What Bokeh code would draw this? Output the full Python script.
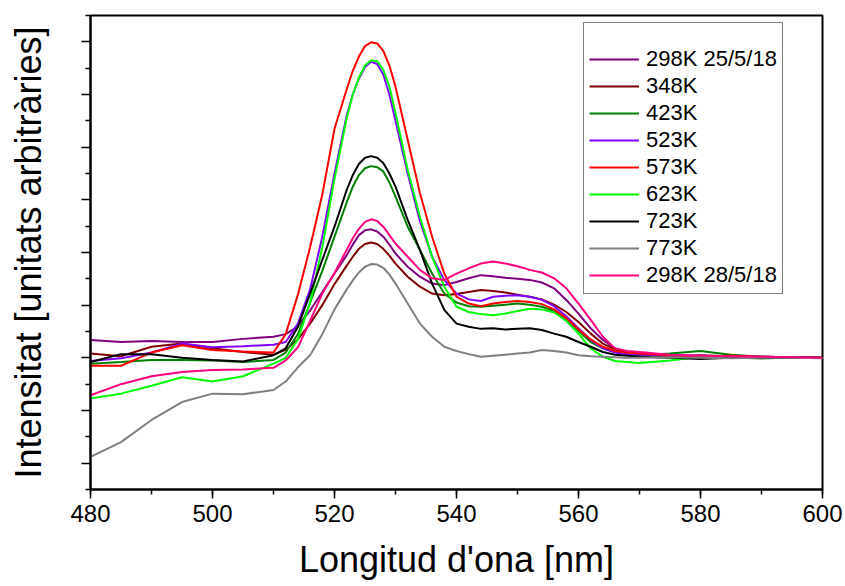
from bokeh.plotting import figure
from bokeh.models import SingleIntervalTicker, FixedTicker, Legend, LegendItem, CustomJSTickFormatter
from bokeh.embed import file_html
from bokeh.resources import INLINE

# wavelength grid [nm]
wl = [480, 485, 490, 495, 500, 505, 510,
      512, 514, 516, 518, 520, 522, 523, 524, 525, 526, 527, 528, 529, 530, 532, 534, 536, 538,
      540, 542, 544, 546, 548, 550, 552, 554, 556, 558, 560, 562, 564, 566, 568, 570,
      575, 580, 585, 590, 595, 600]

labels = ["298K 25/5/18", "348K", "423K", "523K", "573K", "623K", "723K", "773K", "298K 28/5/18"]
colors = ["#800080", "#800000", "#008000", "#8000FF", "#FF0000", "#00FF00", "#000000", "#808080", "#FF0080"]

s_298a = [0.34, 0.30, 0.32, 0.30, 0.30, 0.36, 0.40,
          0.45, 0.60, 0.90, 1.25, 1.60, 1.95, 2.15, 2.33, 2.42, 2.44, 2.40, 2.30, 2.15, 1.98, 1.73, 1.54, 1.41, 1.38,
          1.44, 1.51, 1.57, 1.55, 1.52, 1.50, 1.48, 1.43, 1.32, 1.10, 0.84, 0.56, 0.34, 0.18, 0.11, 0.08,
          0.04, 0.03, 0.02, 0.01, 0.00, 0.00]
s_348 = [0.08, 0.03, 0.21, 0.27, 0.18, 0.11, 0.06,
         0.15, 0.35, 0.65, 1.00, 1.40, 1.75, 1.92, 2.07, 2.16, 2.19, 2.16, 2.07, 1.94, 1.79, 1.54, 1.35, 1.22, 1.19,
         1.21, 1.25, 1.29, 1.27, 1.24, 1.20, 1.16, 1.11, 1.01, 0.87, 0.68, 0.46, 0.27, 0.16, 0.11, 0.08,
         0.02, 0.05, 0.03, 0.02, 0.01, 0.00]
s_423 = [-0.11, -0.08, -0.04, -0.04, -0.05, -0.08, -0.04,
         0.10, 0.45, 1.05, 1.65, 2.30, 2.95, 3.25, 3.47, 3.60, 3.64, 3.62, 3.54, 3.33, 3.06, 2.49, 2.05, 1.60, 1.22,
         1.05, 0.98, 0.97, 0.99, 1.01, 1.03, 1.01, 0.97, 0.89, 0.73, 0.51, 0.30, 0.18, 0.11, 0.07, 0.05,
         0.08, 0.13, 0.06, 0.02, 0.01, 0.00]
s_523 = [-0.06, -0.01, 0.10, 0.27, 0.20, 0.22, 0.25,
         0.30, 0.65, 1.30, 2.30, 3.50, 4.60, 5.00, 5.30, 5.52, 5.62, 5.58, 5.38, 5.00, 4.50, 3.50, 2.60, 1.92, 1.48,
         1.22, 1.11, 1.08, 1.16, 1.18, 1.19, 1.16, 1.10, 0.98, 0.79, 0.56, 0.34, 0.18, 0.10, 0.07, 0.06,
         0.05, 0.04, 0.03, 0.02, 0.01, 0.00]
s_573 = [-0.15, -0.15, 0.10, 0.24, 0.15, 0.12, 0.10,
         0.45, 1.20, 2.10, 3.10, 4.35, 5.10, 5.45, 5.72, 5.92, 5.99, 5.97, 5.83, 5.55, 5.15, 4.14, 3.13, 2.30, 1.60,
         1.16, 1.03, 0.98, 1.03, 1.06, 1.08, 1.06, 1.02, 0.92, 0.75, 0.54, 0.35, 0.21, 0.13, 0.10, 0.08,
         0.05, 0.03, 0.04, 0.02, 0.01, 0.00]
s_623 = [-0.77, -0.68, -0.53, -0.37, -0.45, -0.35, -0.11,
         0.00, 0.35, 1.05, 2.10, 3.40, 4.55, 5.00, 5.32, 5.55, 5.65, 5.63, 5.47, 5.15, 4.65, 3.57, 2.68, 1.92, 1.35,
         0.97, 0.87, 0.83, 0.81, 0.84, 0.89, 0.93, 0.92, 0.86, 0.70, 0.46, 0.18, 0.02, -0.06, -0.08, -0.10,
         -0.05, 0.02, 0.00, -0.01, 0.00, 0.00]
s_723 = [-0.08, 0.07, 0.07, 0.00, -0.04, -0.07, 0.05,
         0.18, 0.59, 1.22, 1.86, 2.49, 3.19, 3.47, 3.68, 3.80, 3.83, 3.80, 3.70, 3.50, 3.25, 2.62, 2.05, 1.41, 0.91,
         0.65, 0.59, 0.55, 0.56, 0.54, 0.55, 0.56, 0.53, 0.46, 0.40, 0.30, 0.21, 0.11, 0.06, 0.04, 0.02,
         0.00, -0.02, 0.00, -0.01, 0.00, 0.00]
s_773 = [-1.88, -1.60, -1.18, -0.84, -0.68, -0.69, -0.61,
         -0.45, -0.18, 0.05, 0.45, 0.92, 1.30, 1.47, 1.62, 1.73, 1.78, 1.77, 1.71, 1.58, 1.41, 1.03, 0.65, 0.40, 0.21,
         0.13, 0.07, 0.02, 0.04, 0.06, 0.08, 0.10, 0.15, 0.13, 0.10, 0.05, 0.03, 0.02, 0.01, 0.00, 0.00,
         0.01, 0.00, -0.01, 0.00, 0.00, -0.01]
s_298b = [-0.71, -0.50, -0.35, -0.27, -0.23, -0.22, -0.19,
          -0.05, 0.20, 0.70, 1.22, 1.61, 2.05, 2.27, 2.45, 2.58, 2.63, 2.60, 2.49, 2.33, 2.17, 1.92, 1.67, 1.51, 1.48,
          1.60, 1.70, 1.79, 1.83, 1.79, 1.74, 1.67, 1.62, 1.51, 1.32, 1.03, 0.72, 0.40, 0.18, 0.13, 0.11,
          0.06, 0.04, 0.03, 0.02, 0.01, 0.00]

series = [s_298a, s_348, s_423, s_523, s_573, s_623, s_723, s_773, s_298b]

FONT = "Liberation Sans"

p = figure(width=845, height=586, x_range=(480, 600), y_range=(-2.5, 6.5),
           output_backend="svg", toolbar_location=None,
           min_border_left=90, min_border_right=23, min_border_top=15, min_border_bottom=97)
p.grid.visible = False
p.background_fill_color = "white"
p.border_fill_color = "white"
p.outline_line_color = "black"
p.outline_line_width = 2
p.outline_line_alpha = 1.0

xa = p.xaxis[0]
xa.ticker = SingleIntervalTicker(interval=20, num_minor_ticks=2)
xa.axis_label = "Longitud d'ona [nm]"
ya = p.yaxis[0]
ya.ticker = FixedTicker(ticks=[-2, -1, 0, 1, 2, 3, 4, 5, 6],
                        minor_ticks=[-2.5, -1.5, -0.5, 0.5, 1.5, 2.5, 3.5, 4.5, 5.5, 6.5])
ya.axis_label = "Intensitat [unitats arbitràries]"
ya.formatter = CustomJSTickFormatter(code="return '';")

for ax in (xa, ya):
    ax.axis_line_color = "black"
    ax.axis_line_width = 2
    ax.major_tick_line_color = "black"
    ax.major_tick_line_width = 1.5
    ax.minor_tick_line_color = "black"
    ax.minor_tick_line_width = 1.5
    ax.major_tick_out = 9
    ax.major_tick_in = 0
    ax.minor_tick_out = 5
    ax.minor_tick_in = 0
    ax.axis_label_text_font = FONT
    ax.axis_label_text_font_size = "36px"
    ax.axis_label_text_font_style = "normal"
    ax.axis_label_text_color = "black"
    ax.major_label_text_font = FONT
    ax.major_label_text_color = "black"

xa.major_label_text_font_size = "24px"
xa.major_label_standoff = 6
xa.axis_label_standoff = 14
ya.major_label_text_font_size = "24px"
ya.major_label_standoff = 0
ya.axis_label_standoff = 33

items = []
for lab, col, ys in zip(labels, colors, series):
    r = p.line(wl, ys, line_color=col, line_width=2)
    items.append(LegendItem(label=lab, renderers=[r]))

legend = Legend(items=items, location=(493, 195))
legend.label_text_font = FONT
legend.label_text_font_size = "22px"
legend.label_text_color = "black"
legend.label_height = 24
legend.glyph_height = 24
legend.glyph_width = 50
legend.label_standoff = 7
legend.spacing = 1
legend.padding = 5
legend.margin = 0
legend.title = " "
legend.title_text_font_size = "16px"
legend.title_standoff = 0
legend.border_line_color = "black"
legend.border_line_width = 1.5
legend.background_fill_color = "white"
legend.background_fill_alpha = 1.0
p.add_layout(legend)

open("out.html", "w").write(file_html(p, INLINE))
